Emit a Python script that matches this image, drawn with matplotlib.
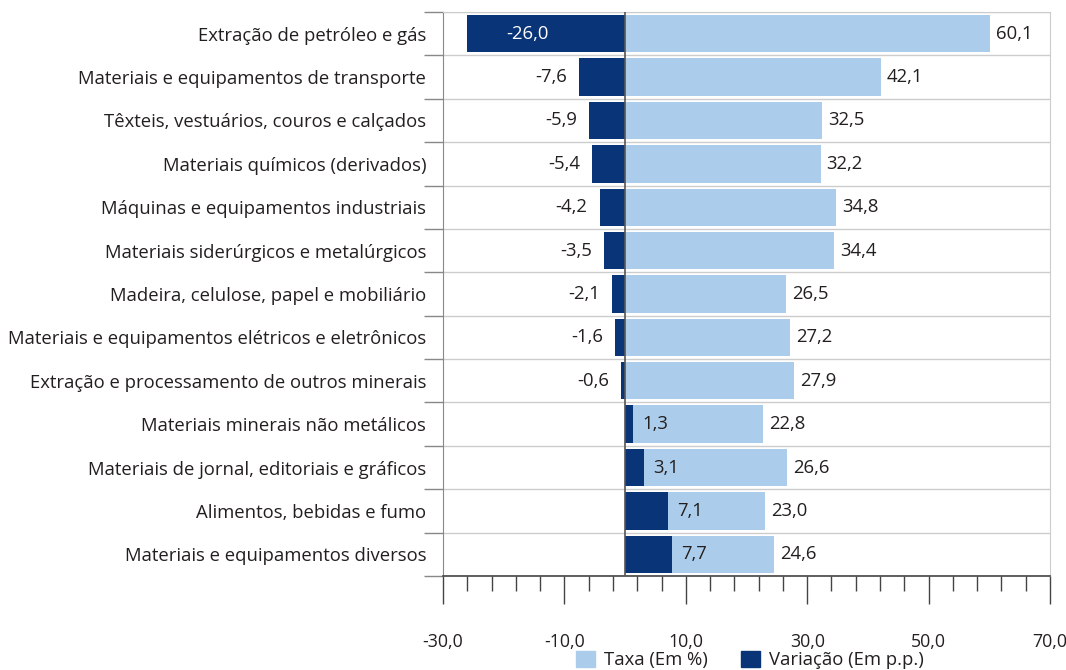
import numpy as np
import matplotlib.pyplot as plt
from matplotlib.ticker import FixedLocator
from matplotlib.patches import Patch

plt.rcParams['font.family'] = ['Open Sans', 'DejaVu Sans']

categorias = [
    'Extração de petróleo e gás',
    'Materiais e equipamentos de transporte',
    'Têxteis, vestuários, couros e calçados',
    'Materiais químicos (derivados)',
    'Máquinas e equipamentos industriais',
    'Materiais siderúrgicos e metalúrgicos',
    'Madeira, celulose, papel e mobiliário',
    'Materiais e equipamentos elétricos e eletrônicos',
    'Extração e processamento de outros minerais',
    'Materiais minerais não metálicos',
    'Materiais de jornal, editoriais e gráficos',
    'Alimentos, bebidas e fumo',
    'Materiais e equipamentos diversos',
]
taxa = [60.1, 42.1, 32.5, 32.2, 34.8, 34.4, 26.5, 27.2, 27.9, 22.8, 26.6, 23.0, 24.6]
variacao = [-26.0, -7.6, -5.9, -5.4, -4.2, -3.5, -2.1, -1.6, -0.6, 1.3, 3.1, 7.1, 7.7]
xticks = [-30, -10, 10, 30, 50, 70]

cor_taxa = '#abcdeb'
cor_var = '#0a3478'
texto = '#231f20'
fs = 13.3


def fmt(v):
    return f'{v:.1f}'.replace('.', ',')


fig = plt.figure(figsize=(10.66, 6.70), dpi=100)
ax = fig.add_axes([443 / 1066, 1 - 576 / 670, 607 / 1066, 564 / 670])

y = np.arange(len(categorias))
ax.barh(y, taxa, height=0.86, color=cor_taxa, zorder=2)
ax.barh(y, variacao, height=0.86, color=cor_var, zorder=3)
ax.axvline(0, color='#555555', lw=1.2, zorder=4)

for i in range(len(categorias)):
    t = taxa[i]
    v = variacao[i]
    ax.text(t + 1.0, i, fmt(t), va='center', ha='left', fontsize=fs, color=texto, zorder=5)
    if v <= -20:
        ax.text(v / 2 - 3, i, fmt(v), va='center', ha='center', fontsize=fs, color='white', zorder=5)
    elif v < 0:
        ax.text(v - 2.0, i, fmt(v), va='center', ha='right', fontsize=fs, color=texto, zorder=5)
    else:
        ax.text(v + 1.5, i, fmt(v), va='center', ha='left', fontsize=fs, color=texto, zorder=5)

ax.set_xlim(-30, 70)
ax.set_ylim(len(categorias) - 0.5, -0.5)

ax.set_yticks(y)
ax.set_yticklabels(categorias, fontsize=fs, color=texto)
ax.yaxis.set_minor_locator(FixedLocator(np.arange(-0.5, len(categorias), 1)))
ax.tick_params(axis='y', which='major', length=0, pad=12)
ax.tick_params(axis='y', which='minor', length=14, color='#888888', width=1)
ax.grid(axis='y', which='minor', color='#cccccc', lw=1, zorder=1)

ax.set_xticks(xticks)
ax.set_xticklabels([fmt(v) for v in xticks], fontsize=12.8, color=texto)
ax.xaxis.set_minor_locator(FixedLocator(np.arange(-30, 71, 4)))
ax.tick_params(axis='x', which='major', length=20, width=1, color='#444444', pad=21)
ax.tick_params(axis='x', which='minor', length=11, width=1, color='#444444')

for s in ['top', 'right', 'left']:
    ax.spines[s].set_color('#cccccc')
ax.spines['left'].set_color('#888888')
ax.spines['bottom'].set_color('#444444')
ax.spines['bottom'].set_linewidth(1.2)

handles = [Patch(color=cor_taxa, label='Taxa (Em %)'), Patch(color=cor_var, label='Variação (Em p.p.)')]
fig.legend(handles=handles, loc='center', bbox_to_anchor=(750 / 1066, 1 - 660 / 670), ncol=2,
           frameon=False, fontsize=fs, handlelength=1.0, handleheight=1.0, columnspacing=1.8,
           handletextpad=0.5, labelcolor=texto, borderpad=0.2)

fig.savefig('out.png', dpi=100)
